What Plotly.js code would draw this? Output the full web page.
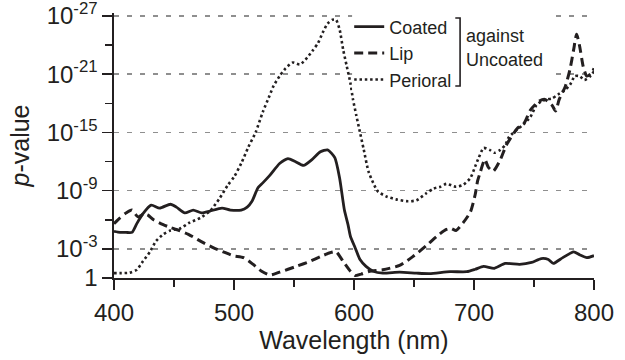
<!DOCTYPE html>
<html>
<head>
<meta charset="utf-8">
<script src="https://cdn.plot.ly/plotly-3.0.1.min.js"></script>
<style>html,body{margin:0;padding:0;background:#fff;}#chart{width:625px;height:360px;}</style>
</head>
<body>
<div id="chart"></div>
<script>
// Values are -log10(p)
const coatedX = [400,405,410,415,419,424,431,438,447,452,459,466,473,480,490,497,506,511,515,520,524,530,538,545,551,558,565,572,578,584,588,592,595,597,601,605,610,616,624,638,652,663,680,694,701,708,717,726,738,748,756,762,766,774,783,788,794,800];
const coatedY = [4.8,4.7,4.7,4.7,5.6,6.6,7.5,7.2,7.6,7.3,6.7,7.0,6.7,6.9,7.2,7.0,7.0,7.3,7.9,9.3,9.8,10.6,11.8,12.3,12.0,11.6,12.2,13.0,13.2,12.4,10.3,7.0,5.5,4.3,3.1,1.9,1.2,0.7,0.5,0.6,0.5,0.45,0.65,0.65,0.9,1.2,1.0,1.5,1.4,1.6,2.0,1.9,1.5,2.1,2.7,2.4,2.1,2.3];

const lipX = [400,405,410,415,420,425,428,433,441,447,452,462,472,483,491,499,508,516,523,530,538,552,563,572,580,585,591,597,601,606,613,624,638,649,660,669,677,681,685,691,697,701,703,705,709,712,716,722,727,736,742,747,754,759,765,768,771,776,780,783,785.5,788,791,794,798,800];
const lipY = [5.6,6.2,6.7,7.0,6.3,6.6,6.5,6.0,5.5,5.2,5.0,4.5,3.8,3.1,2.7,2.3,2.1,1.4,0.7,0.3,0.6,1.2,1.7,2.2,2.6,2.7,1.7,0.7,0.25,0.4,0.7,0.85,1.3,2.2,3.3,4.3,5.0,5.1,4.9,5.7,6.8,8.6,10.0,10.8,12.2,11.4,11.0,12.2,13.7,15.4,16.0,17.3,18.2,18.4,17.8,17.2,18.4,19.7,21.5,23.5,25.1,23.9,21.8,20.8,21.1,21.6];

const periX = [400,405,413,419,424,430,435,441,447,455,463,472,480,488,495,500,506,512,518,524,529,533,538,543,549,555,561,566,570,574,578,582,585,588,591,594,597,599,602,605,608,612,616,620,627,635,645,652,660,666,672,677,685,691,697,701,704,708,713,717,722,726,729,736,741,747,752,756,761,765,770,776,780,784,788,792,797,800];
const periY = [0.5,0.5,0.55,0.85,1.7,2.7,3.8,4.5,4.9,5.1,5.7,6.2,6.9,8.2,9.6,10.4,11.8,13.5,15.0,17.1,18.6,19.8,20.8,21.6,22.2,22.0,22.7,23.5,24.2,25.3,26.2,26.6,26.6,25.6,23.5,21.8,20.1,18.5,16.7,15.0,13.3,11.0,9.8,8.9,8.4,8.1,7.9,8.0,8.7,9.2,9.4,9.7,9.4,9.6,10.3,11.5,12.4,13.4,13.2,12.9,13.2,13.7,14.5,15.3,15.8,16.6,17.8,18.2,18.4,18.5,18.9,19.4,19.9,20.8,20.8,20.4,20.8,21.3];

const seriesNames = ['Coated','Lip','Perioral'];
const yTickVals = [0,3,9,15,21,27];
const yTickText = ['1','10<sup>-3</sup>','10<sup>-9</sup>','10<sup>-15</sup>','10<sup>-21</sup>','10<sup>-27</sup>'];
const yMinorVals = [6,12,18,24];
const xTickVals = [400,500,600,700,800];

const FONT = 'Liberation Sans, Arial, sans-serif';
const INK = '#231f20';

const traces = [
  {x: coatedX, y: coatedY, name: seriesNames[0], type:'scatter', mode:'lines',
   line:{color:INK, width:2.8, shape:'spline', smoothing:0.6}},
  {x: lipX, y: lipY, name: seriesNames[1], type:'scatter', mode:'lines',
   line:{color:INK, width:3, dash:'9px,5px', shape:'spline', smoothing:0.6}},
  {x: periX, y: periY, name: seriesNames[2], type:'scatter', mode:'lines',
   line:{color:INK, width:2.6, dash:'2.5px,2.8px', shape:'spline', smoothing:0.6}}
];

const layout = {
  width:625, height:360,
  margin:{l:114, r:31, t:13, b:82, autoexpand:false},
  paper_bgcolor:'#fff', plot_bgcolor:'#fff',
  font:{family:FONT, color:INK},
  showlegend:true,
  legend:{x:0.49, y:1.017, xanchor:'left', yanchor:'top', bgcolor:'rgba(0,0,0,0)',
          font:{size:18, family:FONT, color:INK}, itemwidth:30, tracegroupgap:0},
  xaxis:{range:[400,800], tickvals:xTickVals, ticks:'outside', ticklen:10, tickwidth:1.5, tickcolor:INK,
         showline:true, linecolor:INK, linewidth:1.6, showgrid:false, zeroline:false,
         ticklabelstandoff:3, ticklabeloverflow:'allow',
         tickfont:{size:24, family:FONT, color:INK},
         minor:{dtick:50, tick0:400, ticks:'outside', ticklen:7, tickwidth:1.5, tickcolor:INK, showgrid:false},
         title:{text:'Wavelength (nm)', font:{size:25, family:FONT, color:INK}, standoff:4}},
  yaxis:{range:[0,27.3], tickmode:'array', tickvals:yTickVals, ticktext:yTickText,
         ticks:'outside', ticklen:10, tickwidth:1.5, tickcolor:INK,
         showline:true, linecolor:INK, linewidth:1.6, zeroline:false,
         ticklabeloverflow:'allow',
         showgrid:true, gridcolor:'#8f8f8f', gridwidth:1.4, griddash:'5px,8px',
         tickfont:{size:24, family:FONT, color:INK},
         minor:{tickmode:'array', tickvals:yMinorVals, ticks:'outside', ticklen:7, tickwidth:1.5, tickcolor:INK, showgrid:false},
         title:{text:'<i>p</i>-value', font:{size:25, family:FONT, color:INK}, standoff:10}},
  shapes:[
    {type:'rect', xref:'paper', yref:'paper', x0:0.496, x1:0.9125, y0:0.702, y1:1.019,
     fillcolor:'#ffffff', line:{width:0}, layer:'above'},
    {type:'path', xref:'paper', yref:'paper', path:'M 0.711 0.981 L 0.721 0.981 L 0.721 0.7245 L 0.711 0.7245',
     line:{color:INK, width:1.6}, layer:'above'}
  ],
  annotations:[
    {xref:'paper', yref:'paper', x:0.73, y:0.913, xanchor:'left', yanchor:'middle', showarrow:false,
     text:'against', font:{size:18, family:FONT, color:INK}},
    {xref:'paper', yref:'paper', x:0.73, y:0.823, xanchor:'left', yanchor:'middle', showarrow:false,
     text:'Uncoated', font:{size:18, family:FONT, color:INK}}
  ]
};

Plotly.newPlot('chart', traces, layout, {displayModeBar:false, staticPlot:true});
</script>
</body>
</html>
